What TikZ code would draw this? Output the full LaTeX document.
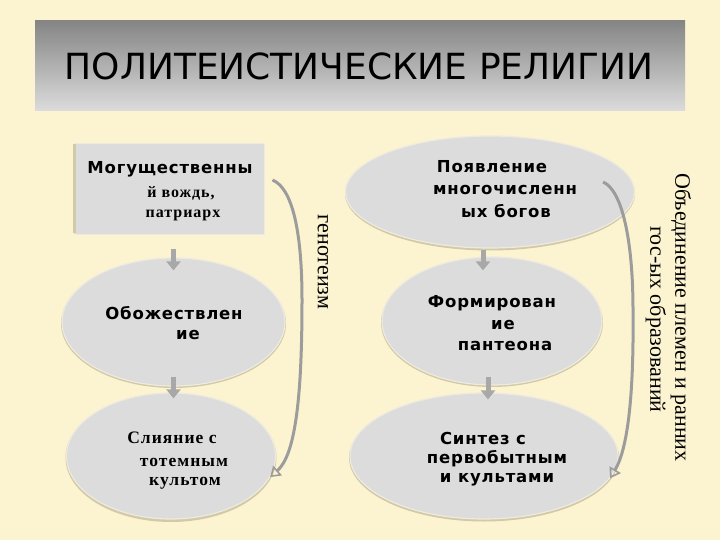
\documentclass[tikz,border=0pt]{standalone}
\usepackage{fontspec}
\setmainfont{Liberation Serif}
\newfontfamily\dvs{DejaVu Sans}
\newfontfamily\bsans[LetterSpace=5]{DejaVu Sans Bold}
\newfontfamily\bserif[LetterSpace=6]{Liberation Serif Bold}
\usetikzlibrary{shapes.geometric,arrows.meta}
\definecolor{bg}{HTML}{FCF3D0}
\definecolor{boxfill}{HTML}{DCDCDC}
\definecolor{boxline}{HTML}{EEEAE0}
\definecolor{shadowc}{HTML}{D2C9A6}
\definecolor{arrowc}{HTML}{A8A8A8}
\definecolor{curvec}{HTML}{9C9C9C}
\definecolor{titletop}{HTML}{858585}
\tikzset{
  titlebox/.style={rectangle, inner sep=0pt, top color=titletop, bottom color=boxfill, minimum width=650pt, minimum height=90pt},
  ell/.style={ellipse, fill=boxfill, draw=boxline, line width=1.2pt, inner sep=0pt},
  rbox/.style={rectangle, fill=boxfill, draw=boxline, line width=1pt, inner sep=0pt},
  sline/.style={inner sep=0pt, font=\bsans\fontsize{16.5}{19}\selectfont},
  rline/.style={inner sep=0pt, font=\bserif\fontsize{16}{18}\selectfont},
  vline/.style={inner sep=0pt, rotate=-90, font=\fontsize{22}{24}\selectfont},
  barrow/.style={draw=arrowc, line width=5pt, -{Triangle[width=14pt,length=9pt]}},
  carrow/.style={draw=curvec, line width=3pt, -{Triangle[open, width=13pt, length=10pt, line width=1.6pt]}},
}
\begin{document}
\begin{tikzpicture}[x=1pt,y=-1pt]
\fill[bg] (0,0) rectangle (720,540);
\useasboundingbox (0,0) rectangle (720,540);

% title
\node[titlebox] (title) at (360,66) {};
\node[inner sep=0pt, anchor=base, font=\dvs\fontsize{36}{40}\selectfont] (ttext) at (359,80) {ПОЛИТЕИСТИЧЕСКИЕ РЕЛИГИИ};

% left column
\node[rbox, minimum width=190pt, minimum height=90pt] (l1) at (169,189) {};
\draw[shadowc, line width=3pt] (74.5,144) -- (74.5,233);
\fill[shadowc] (173.5,323.5) ellipse (112.5pt and 64.5pt);
\node[ell, minimum width=223pt, minimum height=128pt] (l2) at (173.5,322) {};
\fill[shadowc] (171,457.5) ellipse (105.5pt and 64.5pt);
\node[ell, minimum width=209pt, minimum height=126pt] (l3) at (171,456) {};

\node[sline] (t11) at (170,169) {Могущественны};
\node[rline] (t12) at (181,193) {й вождь,};
\node[rline] (t13) at (183,215) {патриарх};

\node[sline] (t21) at (174,313) {Обожествлен};
\node[sline] (t22) at (188,335) {ие};

\node[rline, font=\bserif\fontsize{17.5}{20}\selectfont] (t31) at (172,438) {Слияние с};
\node[rline, font=\bserif\fontsize{17.5}{20}\selectfont] (t32) at (184,462) {тотемным};
\node[rline, font=\bserif\fontsize{17.5}{20}\selectfont] (t33) at (185,483) {культом};

\draw[barrow, shorten <=14pt, shorten >=-13pt] (l1.south -| l2.north) -- (l2.north);
\draw[barrow, shorten <=-10pt, shorten >=-6pt] (l2.south) -- (l2.south |- l3.north);

\draw[carrow] ([shift={(8,-9)}]l1.east) .. controls (292,188) and (302,230) .. (302,300)
   .. controls (302,400) and (295,455) .. (l3.-12);
\node[vline] (geno) at (323,262) {генотеизм};

% right column
\fill[shadowc] (490,193.5) ellipse (145pt and 57pt);
\node[ell, minimum width=289pt, minimum height=112pt] (r1) at (490,192) {};
\fill[shadowc] (492,322.5) ellipse (111pt and 64.5pt);
\node[ell, minimum width=220pt, minimum height=128pt] (r2) at (492,321) {};
\fill[shadowc] (484,457.5) ellipse (135pt and 64pt);
\node[ell, minimum width=268pt, minimum height=126pt] (r3) at (484,456) {};

\node[sline] (u11) at (492,167) {Появление};
\node[sline] (u12) at (505,190) {многочисленн};
\node[sline] (u13) at (506,211) {ых богов};

\node[sline] (u21) at (492,303) {Формирован};
\node[sline] (u22) at (503,325) {ие};
\node[sline] (u23) at (505,346) {пантеона};

\node[sline] (u31) at (483,438) {Синтез с};
\node[sline] (u32) at (497,459) {первобытным};
\node[sline] (u33) at (497,480) {и культами};

\draw[barrow, shorten <=1pt, shorten >=-14pt] ([xshift=-7pt]r1.south) -- ([xshift=-7pt]r1.south |- r2.north);
\draw[barrow, shorten <=-9pt, shorten >=-7pt] ([xshift=-4pt]r2.south) -- ([xshift=-4pt]r2.south |- r3.north);

\draw[carrow] ([shift={(-32,-10)}]r1.east) .. controls (622,190) and (633,240) .. (633,310)
   .. controls (634,400) and (627,450) .. (r3.-10);
\node[vline] (ob1) at (681,317.5) {Объединение племен и ранних};
\node[vline] (ob2) at (656,319.5) {гос-ых образований};
\end{tikzpicture}
\end{document}
